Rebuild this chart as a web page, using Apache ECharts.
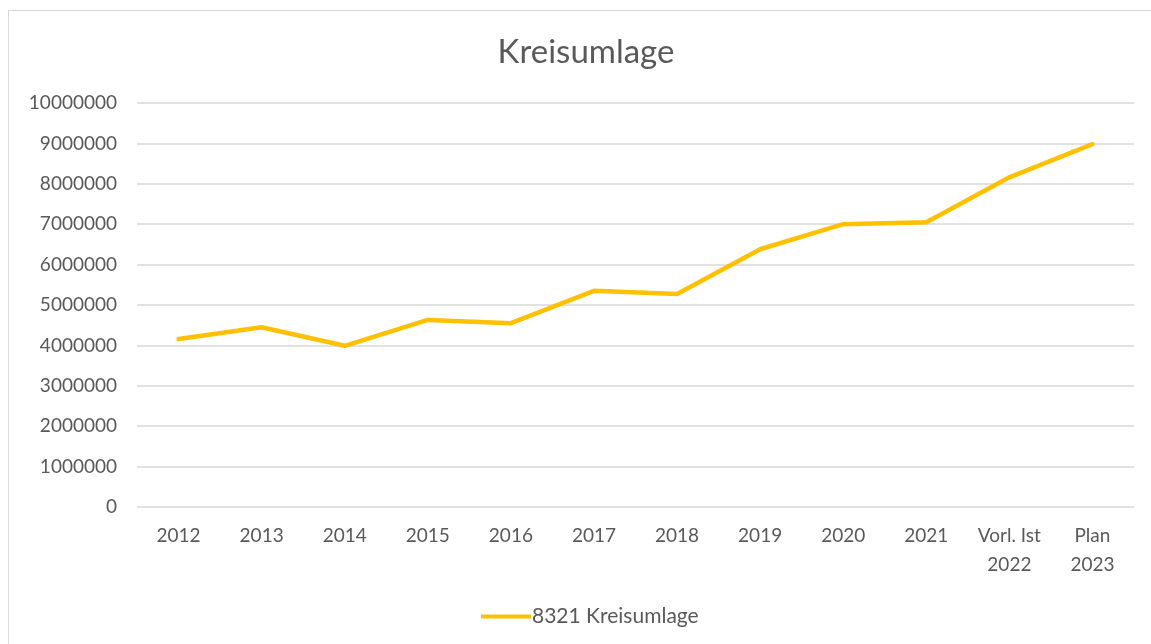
<!DOCTYPE html>
<html>
<head>
<meta charset="utf-8">
<script src="https://cdn.jsdelivr.net/npm/echarts@6/dist/echarts.min.js"></script>
<style>
    html, body { margin: 0; padding: 0; background: #fff; }
    #frame {
        position: absolute; left: 8px; top: 10px; width: 1200px; height: 700px;
        border-top: 1px solid #d9d9d9; border-left: 1px solid #d9d9d9;
    }
    #chart { position: absolute; left: 0; top: 0; width: 1151px; height: 644px; }
</style>
</head>
<body>
<div id="frame"></div>
<div id="chart"></div>
<script>
var categories = ['2012', '2013', '2014', '2015', '2016', '2017', '2018', '2019', '2020', '2021', 'Vorl. Ist\n2022', 'Plan\n2023'];
var kreisumlage = [4160000, 4450000, 3990000, 4630000, 4550000, 5350000, 5270000, 6380000, 7000000, 7050000, 8160000, 8980000];
var seriesName = '8321 Kreisumlage';

var textColor = '#595959';
var fontName = 'Lato';

var chart = echarts.init(document.getElementById('chart'));
chart.setOption({
    animation: false,
    title: {
        text: 'Kreisumlage',
        left: 581,
        top: 31,
        textAlign: 'center',
        textStyle: { fontFamily: fontName, fontSize: 33, fontWeight: 'normal', color: textColor }
    },
    legend: {
        data: [seriesName],
        left: 476,
        top: 601,
        icon: 'rect',
        itemWidth: 50,
        itemHeight: 4,
        textStyle: { fontFamily: fontName, fontSize: 21, color: textColor, padding: [0, 0, 0, -4] }
    },
    grid: { left: 137, right: 17, top: 103, bottom: 137, containLabel: false },
    xAxis: {
        type: 'category',
        data: categories,
        boundaryGap: true,
        axisLine: { show: false },
        axisTick: { show: false },
        axisLabel: {
            margin: 14,
            interval: 0,
            lineHeight: 29,
            fontFamily: fontName,
            fontSize: 19,
            color: textColor
        }
    },
    yAxis: {
        type: 'value',
        min: 0,
        max: 10000000,
        interval: 1000000,
        axisLine: { show: false },
        axisTick: { show: false },
        axisLabel: {
            margin: 20, fontFamily: fontName, fontSize: 19, color: textColor,
            formatter: function (v) { return String(v); }
        },
        splitLine: { lineStyle: { color: '#d9d9d9', width: 1.5 } }
    },
    series: [{
        name: seriesName,
        type: 'line',
        data: kreisumlage,
        symbol: 'none',
        color: '#ffc000',
        lineStyle: { color: '#ffc000', width: 4.5, cap: 'round', join: 'round' }
    }]
});
</script>
</body>
</html>
